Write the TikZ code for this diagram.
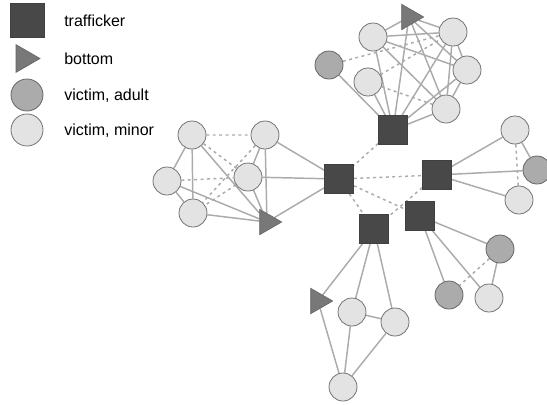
\documentclass[tikz,border=0pt]{standalone}
\usepackage{fontspec}
\setmainfont{Liberation Sans}
\usepackage{tikz}
\usetikzlibrary{shapes.geometric,backgrounds}
\definecolor{trafgray}{HTML}{484848}
\definecolor{botgray}{HTML}{787878}
\definecolor{adultgray}{HTML}{ABABAB}
\definecolor{minorgray}{HTML}{E3E3E3}
\definecolor{linegray}{HTML}{ABABAB}
\begin{document}
\begin{tikzpicture}[x=0.75pt,y=-0.75pt,
		trafficker/.style={rectangle,draw=black!75,fill=trafgray,line width=0.6pt,minimum size=21.75pt,inner sep=0pt},
		bottomtri/.style={regular polygon,regular polygon sides=3,shape border rotate=-90,draw=black!60,fill=botgray,line width=0.5pt,minimum size=22pt,inner sep=0pt},
		adult/.style={circle,draw=black!60,fill=adultgray,line width=0.6pt,minimum size=21pt,inner sep=0pt},
		minor/.style={circle,draw=black!55,fill=minorgray,line width=0.6pt,minimum size=21pt,inner sep=0pt},
		edge/.style={draw=linegray,line width=1.1pt},
		weak/.style={draw=linegray,line width=1.1pt,dash pattern=on 2.2pt off 2.6pt},
		legtext/.style={anchor=base west,font=\fontsize{12}{14}\selectfont,inner sep=0pt}]
		\useasboundingbox (0,0) rectangle (547,404);

		\node[trafficker,minimum size=25.5pt] (keyt) at (27,20) {};
		\node[bottomtri,minimum size=24pt] (keyb) at (24,58.5) {};
		\node[adult,minimum size=24pt] (keya) at (27,95) {};
		\node[minor,minimum size=24pt] (keym) at (27,130) {};
		\node[legtext] (keyttext) at (64,26) {trafficker};
		\node[legtext] (keybtext) at (64,64.5) {bottom};
		\node[legtext] (keyatext) at (64,100) {victim, adult};
		\node[legtext] (keymtext) at (64,135) {victim, minor};

		\node[trafficker] (ta) at (393,130) {};
		\node[trafficker] (tb) at (339,179) {};
		\node[trafficker] (tc) at (437,175) {};
		\node[trafficker] (td) at (420,216) {};
		\node[trafficker] (te) at (374,229) {};

		\node[bottomtri] (tria) at (409,17) {};
		\node[minor] (ma) at (373,37) {};
		\node[minor] (mb) at (453,32) {};
		\node[minor] (mc) at (467,70) {};
		\node[adult] (md) at (329,65) {};
		\node[minor] (me) at (368,82) {};
		\node[minor] (mf) at (446,109) {};

		\node[minor] (la) at (192,135) {};
		\node[minor] (lb) at (265,135) {};
		\node[minor] (lc) at (248,177) {};
		\node[minor] (ld) at (167,181) {};
		\node[minor] (le) at (193,213) {};
		\node[bottomtri] (trib) at (267,222) {};

		\node[minor] (ra) at (515,130) {};
		\node[adult] (rb) at (537,170) {};
		\node[minor] (rc) at (519,200) {};

		\node[adult] (sa) at (500,249) {};
		\node[adult] (sb) at (449,295) {};
		\node[minor] (sc) at (489,298) {};

		\node[bottomtri] (tric) at (318,301) {};
		\node[minor] (ua) at (352,312) {};
		\node[minor] (ub) at (395,322) {};
		\node[minor] (uc) at (343,387) {};

		\begin{scope}[on background layer]
			\path[edge] (ta) -- (md) (ta) -- (me) (ta) -- (ma) (ta) -- (tria) (ta) -- (mb) (ta) -- (mc) (ta) -- (mf);
			\path[edge] (ma) -- (tria) (ma) -- (mb) (ma) -- (mc) (ma) -- (mf);
			\path[edge] (tria) -- (mb) (tria) -- (mc) (tria) -- (mf) (mb) -- (mc) (mb) -- (mf) (mc) -- (mf);
			\path[weak] (md) -- (mb) (me) -- (mb) (me) -- (mf);

			\path[edge] (la) -- (ld) (la) -- (le) (la) -- (trib) (ld) -- (le) (ld) -- (trib) (le) -- (trib);
			\path[edge] (lb) -- (lc) (lb) -- (trib) (lc) -- (trib) (lb) -- (tb) (lc) -- (tb) (trib) -- (tb);
			\path[weak] (la) -- (lb) (la) -- (lc) (ld) -- (lc) (lb) -- (le) (lc) -- (le);

			\path[weak] (ta) -- (tb) (tb) -- (tc) (tb) -- (td) (tb) -- (te) (tc) -- (te);

			\path[edge] (tc) -- (ra) (tc) -- (rb) (tc) -- (rc) (ra) -- (rb);
			\path[weak] (ra) -- (rc);

			\path[edge] (td) -- (sa) (td) -- (sb) (td) -- (sc) (sa) -- (sc);
			\path[weak] (sa) -- (sb);

			\path[edge] (te) -- (tric) (te) -- (ua) (te) -- (ub) (ua) -- (ub) (tric) -- (uc) (ua) -- (uc) (ub) -- (uc);
		\end{scope}
	\end{tikzpicture}
\end{document}
